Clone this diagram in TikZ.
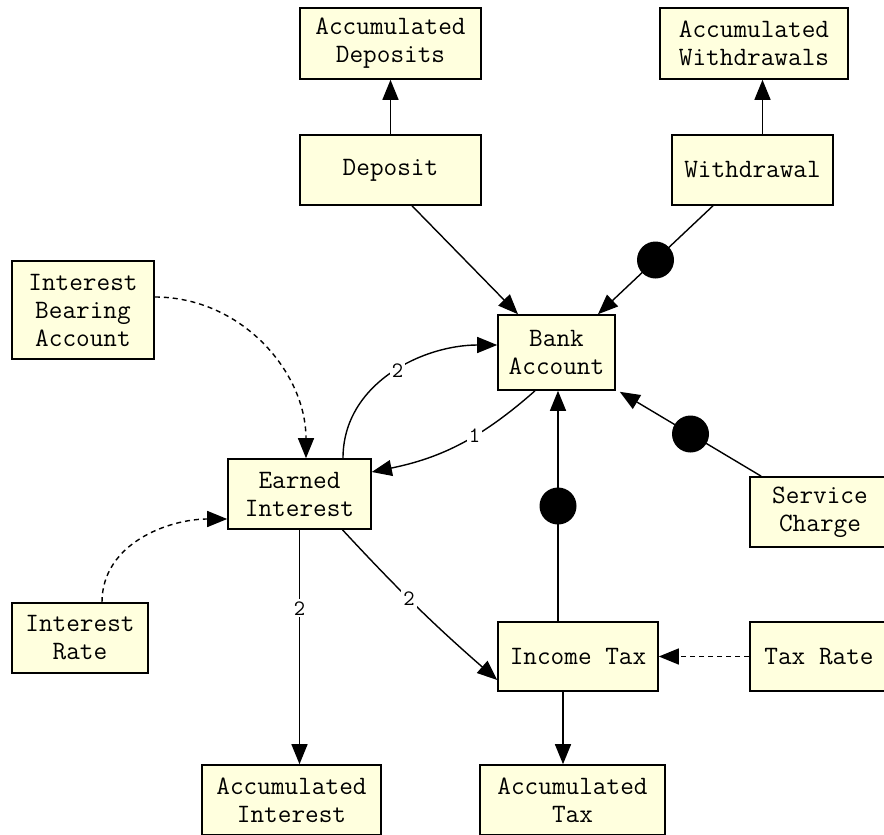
\documentclass[tikz,border=0pt]{standalone}
\usepackage{fontspec}
\usetikzlibrary{arrows.meta}
\definecolor{boxfill}{RGB}{255,255,222}
\tikzset{
	block/.style={draw, fill=boxfill, line width=1.6pt, font=\ttfamily\fontsize{26.5}{28}\selectfont, align=center, inner sep=0pt, minimum height=70pt},
	flow/.style={line width=1.4pt, -{Triangle[length=20pt,width=16pt]}},
	dep/.style={flow, dash pattern=on 5pt off 4pt},
	blob/.style={circle, fill=black, minimum size=37pt, inner sep=0pt},
	num/.style={fill=white, inner sep=2pt, font=\ttfamily\fontsize{22}{22}\selectfont},
}

\begin{document}
\begin{tikzpicture}[x=1pt, y=1pt]
			%%%%% START %%%%%
			\useasboundingbox (0, 0) rectangle (884, -835);
			
			\node[block, minimum width=181pt, minimum height=71pt] (accDeposits) at (390.5, -43.5) {Accumulated\\Deposits};
			\node[block, minimum width=188pt, minimum height=71pt] (accWithdrawals) at (754, -43.5) {Accumulated\\Withdrawals};
			\node[block, minimum width=181pt] (deposit) at (390.5, -170) {Deposit};
			\node[block, minimum width=161pt] (withdrawal) at (752.5, -170) {Withdrawal};
			\node[block, minimum width=142pt, minimum height=98pt] (bearing) at (83, -310) {Interest\\Bearing\\Account};
			\node[block, minimum width=117pt, minimum height=75pt] (bank) at (556.5, -352.5) {Bank\\Account};
			\node[block, minimum width=143pt] (earned) at (299.5, -494) {Earned\\Interest};
			\node[block, minimum width=140pt] (service) at (820, -512) {Service\\Charge};
			\node[block, minimum width=136pt] (rate) at (80, -638) {Interest\\Rate};
			\node[block, minimum width=160pt, minimum height=69pt] (incometax) at (578, -656.5) {Income Tax};
			\node[block, minimum width=138pt, minimum height=69pt] (taxrate) at (819, -656.5) {Tax Rate};
			\node[block, minimum width=179pt] (accInterest) at (291.5, -800) {Accumulated\\Interest};
			\node[block, minimum width=185pt] (accTax) at (572.5, -800) {Accumulated\\Tax};
			
			\draw[flow] (deposit.north) -- (accDeposits.south);
			\draw[flow] ([xshift=10pt]withdrawal.north) -- ([xshift=10pt]withdrawal.north |- accWithdrawals.south);
			
			\draw[flow] ([xshift=21.5pt]deposit.south) -- ([xshift=-38.5pt]bank.north);
			\draw[flow] ([xshift=-39.5pt]withdrawal.south) -- node[blob] (wdot) {} ([xshift=41.5pt]bank.north);
			\draw[flow] ([xshift=12pt]service.north west) -- node[blob] (sdot) {} ([xshift=4pt, yshift=-1pt]bank.south east);
			\draw[flow] ([xshift=-20pt]incometax.north) -- node[blob] (tdot) {} ([xshift=-20pt]incometax.north |- bank.south);
			
			\draw[flow] ([xshift=-21.5pt]bank.south) to[bend left=15] node[num, pos=.4] (one) {1} ([yshift=22pt]earned.east);
			\draw[flow] ([xshift=43.5pt]earned.north) to[out=90, in=180] node[num, pos=.53] (twoA) {2} ([yshift=7.5pt]bank.west);
			\draw[flow] ([xshift=43pt]earned.south) to[bend right=3] node[num, pos=.44] (twoB) {2} ([yshift=-23.5pt]incometax.west);
			\draw[flow] (earned.south) -- node[num, pos=.335] (twoC) {2} (earned.south |- accInterest.north);
			
			\draw[dep] ([yshift=13pt]bearing.east) to[out=0, in=90] ([xshift=6.5pt]earned.north);
			\draw[dep] ([xshift=22pt]rate.north) to[out=90, in=180] ([yshift=-25pt]earned.west);
			\draw[dep] (taxrate.west) -- (incometax.east);
			
			\draw[flow] ([xshift=-15pt]incometax.south) -- ([xshift=-15pt]incometax.south |- accTax.north);
			%%%%% END %%%%%
\end{tikzpicture}
\end{document}
